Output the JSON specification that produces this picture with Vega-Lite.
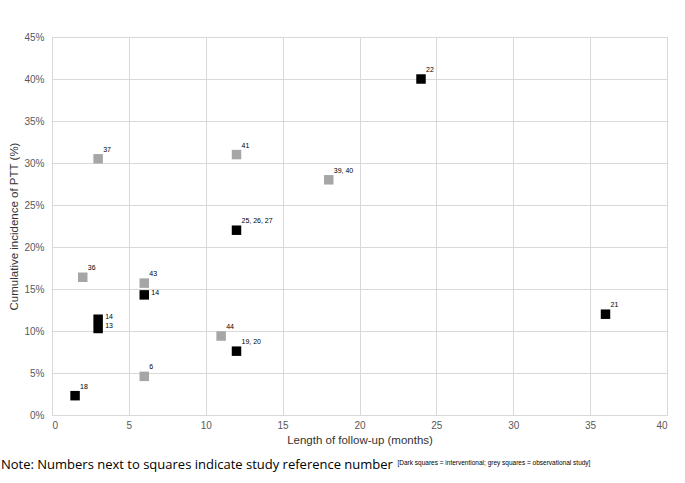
{
  "$schema": "https://vega.github.io/schema/vega-lite/v6.json",
  "background": "white",
  "padding": {"left": 0, "top": 31, "right": 14, "bottom": 5},
  "title": {
    "text": "[Dark squares = interventional; grey squares = observational study]",
    "orient": "bottom",
    "anchor": "start",
    "frame": "bounds",
    "dx": 397,
    "dy": -12,
    "offset": 0,
    "font": "Liberation Sans",
    "fontSize": 6.5,
    "fontWeight": "normal",
    "color": "#000000"
  },
  "datasets": {
    "studies": [
      {"study": "18", "months": 1.5, "pct": 2.3, "type": "interventional"},
      {"study": "37", "months": 3, "pct": 30.5, "type": "observational"},
      {"study": "36", "months": 2, "pct": 16.4, "type": "observational"},
      {"study": "14", "months": 3, "pct": 11.4, "type": "interventional"},
      {"study": "13", "months": 3, "pct": 10.3, "type": "interventional"},
      {"study": "43", "months": 6, "pct": 15.7, "type": "observational"},
      {"study": "14", "months": 6, "pct": 14.3, "type": "interventional"},
      {"study": "6", "months": 6, "pct": 4.6, "type": "observational"},
      {"study": "41", "months": 12, "pct": 31.0, "type": "observational"},
      {"study": "25, 26, 27", "months": 12, "pct": 22.0, "type": "interventional"},
      {"study": "44", "months": 11, "pct": 9.4, "type": "observational"},
      {"study": "19, 20", "months": 12, "pct": 7.6, "type": "interventional"},
      {"study": "39, 40", "months": 18, "pct": 28.0, "type": "observational"},
      {"study": "22", "months": 24, "pct": 40.0, "type": "interventional"},
      {"study": "21", "months": 36, "pct": 12.0, "type": "interventional"}
    ]
  },
  "vconcat": [
    {
      "width": 615,
      "height": 378,
      "title": {
        "text": "Note: Numbers next to squares indicate study reference number",
        "orient": "bottom",
        "anchor": "start",
        "frame": "bounds",
        "dx": -8,
        "offset": 13,
        "font": "Open Sans",
        "fontSize": 13,
        "fontWeight": "normal",
        "color": "#000000"
      },
      "data": {"name": "studies"},
      "encoding": {
        "x": {
          "field": "months",
          "type": "quantitative",
          "scale": {"domain": [0, 40], "nice": false, "zero": true},
          "axis": {
            "title": "Length of follow-up (months)",
            "values": [0, 5, 10, 15, 20, 25, 30, 35, 40],
            "ticks": false,
            "domain": true,
            "domainColor": "#d9d9d9",
            "labelPadding": 5,
            "titlePadding": 4,
            "grid": true
          }
        },
        "y": {
          "field": "pct",
          "type": "quantitative",
          "scale": {"domain": [0, 45], "nice": false},
          "axis": {
            "title": "Cumulative incidence of PTT (%)",
            "values": [0, 5, 10, 15, 20, 25, 30, 35, 40, 45],
            "labelExpr": "datum.value + '%'",
            "ticks": false,
            "domain": false,
            "labelPadding": 8,
            "titlePadding": 4,
            "grid": true
          }
        }
      },
      "layer": [
        {
          "mark": {"type": "square", "size": 90, "opacity": 1, "filled": true},
          "encoding": {
            "color": {
              "field": "type",
              "type": "nominal",
              "scale": {"domain": ["interventional", "observational"], "range": ["#000000", "#a6a6a6"]},
              "legend": null
            }
          }
        },
        {
          "transform": [{"filter": "datum.study != '14' && datum.study != '13'"}],
          "mark": {"type": "text", "align": "left", "baseline": "middle", "dx": 5, "dy": -9, "font": "Liberation Sans", "fontSize": 7, "fill": "#000000"},
          "encoding": {"text": {"field": "study"}}
        },
        {
          "transform": [{"filter": "datum.study == '14' || datum.study == '13'"}],
          "mark": {"type": "text", "align": "left", "baseline": "middle", "dx": 7, "dy": -2, "font": "Liberation Sans", "fontSize": 7, "fill": "#000000"},
          "encoding": {"text": {"field": "study"}}
        }
      ]
    }
  ],
  "config": {
    "view": {"stroke": "#d9d9d9", "strokeWidth": 1},
    "axis": {
      "gridColor": "#d9d9d9",
      "gridWidth": 1,
      "labelFont": "Liberation Sans",
      "labelFontSize": 10,
      "labelColor": "#595959",
      "titleFont": "Liberation Sans",
      "titleFontSize": 11.5,
      "titleFontWeight": "normal",
      "titleColor": "#333333"
    }
  }
}
